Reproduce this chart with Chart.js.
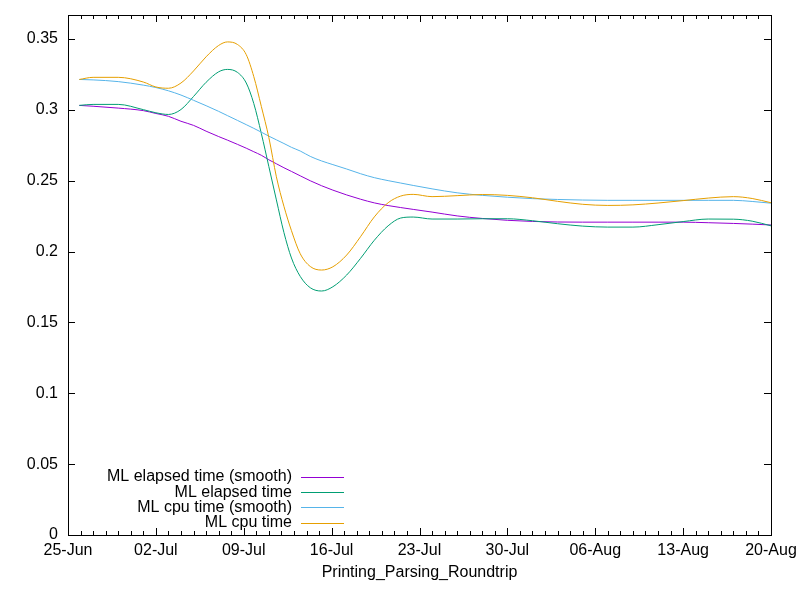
<!DOCTYPE html>
<html>
<head>
<meta charset="utf-8">
<script src="https://cdn.jsdelivr.net/npm/chart.js@4.4.1/dist/chart.umd.min.js"></script>
<style>
  html, body { margin: 0; padding: 0; background: #fff; }
  #wrap { width: 800px; height: 600px; }
</style>
</head>
<body>
<div id="wrap"><canvas id="c" width="800" height="600"></canvas></div>
<script>
// ---- data (x = days since 25-Jun) ----
const tickLabels = ['25-Jun','02-Jul','09-Jul','16-Jul','23-Jul','30-Jul','06-Aug','13-Aug','20-Aug'];
const seriesNames = ['ML elapsed time (smooth)','ML elapsed time','ML cpu time (smooth)','ML cpu time'];
const days = [0.9, 2, 4, 6, 7, 8, 9, 10, 11, 12, 12.7, 13.5, 14.2, 14.8, 15.4, 16, 16.6, 17.2, 17.8, 18.5, 19.3, 20.2, 21.1, 22.2, 23.3, 24.4, 25.5, 26.5, 27.5, 29, 31, 33, 35, 37, 39, 41, 43, 45, 47, 49, 51, 53, 54.5, 56];
const elapsedSmooth = [0.3032, 0.3026, 0.3013, 0.2995, 0.2975, 0.2955, 0.2920, 0.2891, 0.2850, 0.2812, 0.2787, 0.2757, 0.2730, 0.2705, 0.2680, 0.2648, 0.2620, 0.2592, 0.2566, 0.2535, 0.2500, 0.2465, 0.2434, 0.2400, 0.2370, 0.2344, 0.2325, 0.2311, 0.2298, 0.2279, 0.2252, 0.2234, 0.2221, 0.2213, 0.2209, 0.2208, 0.2208, 0.2208, 0.2208, 0.2208, 0.2204, 0.2199, 0.2194, 0.2188];
const elapsed = [0.3032, 0.3039, 0.3039, 0.3002, 0.2980, 0.2968, 0.3003, 0.3095, 0.3195, 0.3269, 0.3286, 0.3265, 0.3190, 0.3045, 0.2834, 0.2600, 0.2365, 0.2135, 0.1955, 0.1825, 0.1745, 0.1722, 0.1752, 0.1835, 0.1952, 0.2080, 0.2182, 0.2237, 0.2244, 0.2230, 0.2230, 0.2232, 0.2232, 0.2218, 0.2197, 0.2180, 0.2173, 0.2173, 0.2190, 0.2212, 0.2230, 0.2229, 0.2215, 0.2182];
const cpuSmooth = [0.3215, 0.3212, 0.3200, 0.3175, 0.3158, 0.3135, 0.3105, 0.3068, 0.3030, 0.2990, 0.2960, 0.2926, 0.2896, 0.2870, 0.2843, 0.2815, 0.2789, 0.2763, 0.2736, 0.2710, 0.2672, 0.2640, 0.2614, 0.2583, 0.2550, 0.2522, 0.2501, 0.2484, 0.2467, 0.2443, 0.2415, 0.2397, 0.2384, 0.2374, 0.2368, 0.2364, 0.2362, 0.2362, 0.2362, 0.2362, 0.2362, 0.2362, 0.2354, 0.2342];
const cpu = [0.3215, 0.3230, 0.3230, 0.3197, 0.3162, 0.3153, 0.3190, 0.3275, 0.3375, 0.3455, 0.3480, 0.3462, 0.3390, 0.3235, 0.3025, 0.2805, 0.2528, 0.2320, 0.2148, 0.1985, 0.1895, 0.1870, 0.1893, 0.1976, 0.2105, 0.2245, 0.2345, 0.2392, 0.2404, 0.2388, 0.2395, 0.2403, 0.2397, 0.2380, 0.2355, 0.2334, 0.2326, 0.2330, 0.2343, 0.2360, 0.2378, 0.2388, 0.2375, 0.2345];
const seriesValues = [elapsedSmooth, elapsed, cpuSmooth, cpu];
const seriesColors = ['#9400D3', '#009E73', '#56B4E9', '#E69F00'];

const FONT = "'Liberation Sans', Arial, sans-serif";
Chart.defaults.font.family = FONT;
Chart.defaults.font.size = 16;
Chart.defaults.color = '#000';

// gnuplot-style frame, inward ticks (major + minor), mirrored
const framePlugin = {
  id: 'frame',
  afterDatasetsDraw(chart) {
    const ctx = chart.ctx;
    const a = chart.chartArea;
    const xs = chart.scales.x, ys = chart.scales.y;
    ctx.save();
    ctx.strokeStyle = '#000';
    ctx.lineWidth = 1;
    ctx.beginPath();
    const MAJ = 7, MIN = 4;
    for (let d = xs.min; d <= xs.max; d += 1) {
      const px = Math.round(xs.getPixelForValue(d)) + 0.5;
      const len = (d % 7 === 0) ? MAJ : MIN;
      ctx.moveTo(px, a.bottom); ctx.lineTo(px, a.bottom - len);
      ctx.moveTo(px, a.top); ctx.lineTo(px, a.top + len);
    }
    ys.ticks.forEach(t => {
      const py = Math.round(ys.getPixelForValue(t.value)) + 0.5;
      ctx.moveTo(a.left, py); ctx.lineTo(a.left + MAJ, py);
      ctx.moveTo(a.right, py); ctx.lineTo(a.right - MAJ, py);
    });
    ctx.stroke();
    ctx.strokeRect(Math.round(a.left) + 0.5, Math.round(a.top) + 0.5,
                   Math.round(a.right - a.left), Math.round(a.bottom - a.top));
    // legend (gnuplot style: text right-aligned, sample on the right)
    ctx.font = '16px ' + FONT;
    ctx.textAlign = 'right';
    ctx.textBaseline = 'middle';
    ctx.fillStyle = '#000';
    const textRight = a.left + 224;
    const lineStart = a.left + 233, lineEnd = a.left + 276;
    const firstRow = a.bottom - 58, rowStep = 15.2;
    chart.data.datasets.forEach((ds, i) => {
      const y = firstRow + i * rowStep;
      ctx.fillText(ds.label, textRight, y);
      ctx.beginPath();
      ctx.strokeStyle = seriesColors[i];
      ctx.moveTo(lineStart, Math.round(y) + 0.5);
      ctx.lineTo(lineEnd, Math.round(y) + 0.5);
      ctx.stroke();
    });
    ctx.restore();
  }
};

new Chart(document.getElementById('c'), {
  type: 'line',
  data: {
    datasets: seriesValues.map((vals, i) => ({
      label: seriesNames[i],
      data: days.map((d, k) => ({ x: d, y: vals[k] })),
      borderColor: seriesColors[i],
      backgroundColor: seriesColors[i],
      borderWidth: 1,
      pointRadius: 0,
      fill: false,
      cubicInterpolationMode: 'monotone',
      order: seriesValues.length - i
    }))
  },
  options: {
    responsive: false,
    animation: false,
    devicePixelRatio: 1,
    layout: { padding: { top: 15, right: 29, left: 0, bottom: 0 } },
    plugins: { legend: { display: false }, tooltip: { enabled: false } },
    scales: {
      x: {
        type: 'linear',
        min: 0, max: 56,
        grid: { display: false, drawTicks: false },
        border: { display: false },
        ticks: {
          stepSize: 7,
          includeBounds: false,
          autoSkip: false,
          maxRotation: 0,
          padding: 6,
          callback: v => tickLabels[Math.round(v / 7)]
        },
        title: { display: true, text: 'Printing_Parsing_Roundtrip', padding: { top: 0, bottom: 18 } },
        afterFit: s => { s.height = 65; s.paddingLeft = 0; s.paddingRight = 0; }
      },
      y: {
        type: 'linear',
        min: 0, max: 0.367,
        grid: { display: false, drawTicks: false },
        border: { display: false },
        ticks: {
          stepSize: 0.05,
          includeBounds: false,
          padding: 10,
          callback: v => String(+v.toFixed(2))
        },
        afterFit: s => { s.width = 68; s.paddingTop = 0; s.paddingBottom = 0; }
      }
    }
  },
  plugins: [framePlugin]
});
</script>
</body>
</html>
